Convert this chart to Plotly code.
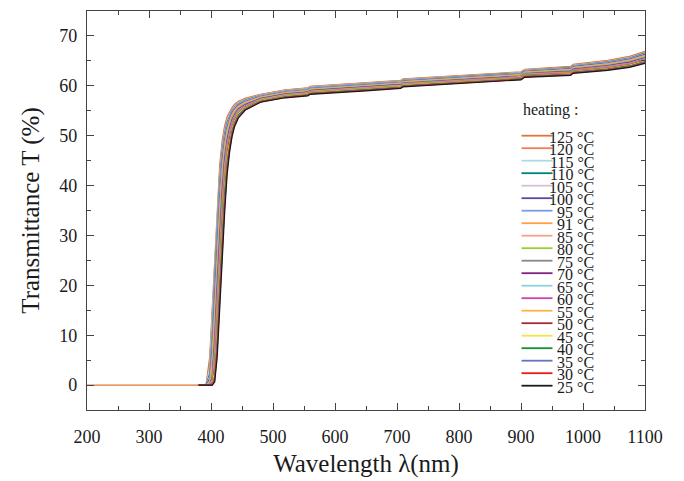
import plotly.graph_objects as go

# Wavelength grid (nm) shared by every heating step
wavelength = [380, 392, 398, 402, 406, 410, 414, 418, 422, 426, 430, 434, 438, 444,
              455, 480, 520, 556, 560, 650, 706, 710, 800, 900, 906, 980, 984, 1040, 1075, 1100]

# The 125 °C scan also covers the deep-UV baseline
baseline_wl = [200]
baseline_T = [0.0]

temperatures = [125, 120, 115, 110, 105, 100, 95, 91, 85, 80, 75, 70, 65, 60, 55, 50, 45, 40, 35, 30, 25]

# Transmittance (%) per heating temperature
T_125 = [0, 0, 5.8, 15.7, 26.7, 35.7, 44.1, 49.0, 52.0, 53.8, 54.9, 55.7, 56.3, 56.9, 57.50, 58.30, 59.20, 59.60, 59.90, 60.60, 61.10, 61.40, 62.10, 62.80, 63.30, 63.90, 64.30, 65.10, 65.90, 66.90]
T_120 = [0, 0, 4.6, 13.9, 25.0, 34.4, 42.8, 48.1, 51.4, 53.4, 54.7, 55.5, 56.1, 56.7, 57.38, 58.22, 59.12, 59.52, 59.82, 60.52, 61.02, 61.32, 62.02, 62.72, 63.22, 63.81, 64.21, 65.00, 65.79, 66.78]
T_115 = [0, 0, 3.5, 12.3, 23.4, 33.1, 41.7, 47.5, 50.9, 53.1, 54.4, 55.3, 55.9, 56.6, 57.26, 58.14, 59.04, 59.44, 59.74, 60.44, 60.94, 61.24, 61.94, 62.64, 63.14, 63.72, 64.12, 64.90, 65.68, 66.66]
T_110 = [0, 0, 2.3, 10.6, 21.8, 31.8, 40.6, 46.8, 50.4, 52.7, 54.1, 55.1, 55.7, 56.4, 57.14, 58.06, 58.96, 59.36, 59.66, 60.36, 60.86, 61.16, 61.86, 62.56, 63.06, 63.63, 64.03, 64.80, 65.57, 66.54]
T_105 = [0, 0, 1.7, 9.2, 20.1, 30.3, 39.3, 46.0, 49.8, 52.3, 53.8, 54.9, 55.6, 56.3, 57.02, 57.98, 58.88, 59.28, 59.58, 60.28, 60.78, 61.08, 61.78, 62.48, 62.98, 63.54, 63.94, 64.70, 65.46, 66.42]
T_100 = [0, 0, 1.3, 7.9, 18.4, 28.8, 37.9, 45.1, 49.2, 51.9, 53.5, 54.7, 55.4, 56.2, 56.90, 57.90, 58.80, 59.20, 59.50, 60.20, 60.70, 61.00, 61.70, 62.40, 62.90, 63.45, 63.85, 64.60, 65.35, 66.30]
T_95 = [0, 0, 0.9, 6.6, 16.6, 27.3, 36.5, 44.1, 48.6, 51.5, 53.2, 54.5, 55.2, 56.0, 56.78, 57.82, 58.72, 59.12, 59.42, 60.12, 60.62, 60.92, 61.62, 62.32, 62.82, 63.36, 63.76, 64.50, 65.24, 66.18]
T_91 = [0, 0, 0.5, 5.4, 14.9, 25.8, 35.1, 43.2, 48.1, 51.0, 52.9, 54.2, 55.0, 55.9, 56.66, 57.74, 58.64, 59.04, 59.34, 60.04, 60.54, 60.84, 61.54, 62.24, 62.74, 63.27, 63.67, 64.40, 65.13, 66.06]
T_85 = [0, 0, 0.3, 4.2, 13.3, 24.3, 33.8, 42.1, 47.3, 50.5, 52.5, 54.0, 54.8, 55.7, 56.54, 57.66, 58.56, 58.96, 59.26, 59.96, 60.46, 60.76, 61.46, 62.16, 62.66, 63.18, 63.58, 64.30, 65.02, 65.94]
T_80 = [0, 0, 0.2, 3.1, 11.6, 22.7, 32.4, 41.0, 46.6, 50.0, 52.1, 53.7, 54.6, 55.6, 56.42, 57.58, 58.48, 58.88, 59.18, 59.88, 60.38, 60.68, 61.38, 62.08, 62.58, 63.09, 63.49, 64.20, 64.91, 65.82]
T_75 = [0, 0, 0, 2.0, 10.0, 21.1, 31.1, 39.9, 46.0, 49.5, 51.8, 53.4, 54.4, 55.4, 56.30, 57.50, 58.40, 58.80, 59.10, 59.80, 60.30, 60.60, 61.30, 62.00, 62.50, 63.00, 63.40, 64.10, 64.80, 65.70]
T_70 = [0, 0, 0, 1.5, 8.6, 19.2, 29.4, 38.3, 45.0, 48.9, 51.4, 53.1, 54.1, 55.3, 56.18, 57.42, 58.32, 58.72, 59.02, 59.72, 60.22, 60.52, 61.22, 61.92, 62.42, 62.91, 63.31, 64.00, 64.69, 65.58]
T_65 = [0, 0, 0, 1.1, 7.3, 17.5, 28.0, 36.9, 44.1, 48.3, 50.9, 52.8, 53.9, 55.1, 56.06, 57.34, 58.24, 58.64, 58.94, 59.64, 60.14, 60.44, 61.14, 61.84, 62.34, 62.82, 63.22, 63.90, 64.58, 65.46]
T_60 = [0, 0, 0, 0.7, 6.0, 15.8, 26.5, 35.5, 43.2, 47.7, 50.5, 52.5, 53.7, 54.9, 55.94, 57.26, 58.16, 58.56, 58.86, 59.56, 60.06, 60.36, 61.06, 61.76, 62.26, 62.73, 63.13, 63.80, 64.47, 65.34]
T_55 = [0, 0, 0, 0.5, 4.9, 14.1, 25.0, 34.2, 42.2, 47.0, 50.0, 52.1, 53.4, 54.7, 55.82, 57.18, 58.08, 58.48, 58.78, 59.48, 59.98, 60.28, 60.98, 61.68, 62.18, 62.64, 63.04, 63.70, 64.36, 65.22]
T_50 = [0, 0, 0, 0.3, 3.8, 12.5, 23.4, 32.9, 41.1, 46.3, 49.5, 51.8, 53.2, 54.5, 55.70, 57.10, 58.00, 58.40, 58.70, 59.40, 59.90, 60.20, 60.90, 61.60, 62.10, 62.55, 62.95, 63.60, 64.25, 65.10]
T_45 = [0, 0, 0, 0.1, 2.7, 10.9, 21.9, 31.6, 40.0, 45.7, 49.0, 51.5, 52.9, 54.4, 55.58, 57.02, 57.92, 58.32, 58.62, 59.32, 59.82, 60.12, 60.82, 61.52, 62.02, 62.46, 62.86, 63.50, 64.14, 64.98]
T_40 = [0, 0, 0, 0, 1.8, 9.4, 20.2, 30.1, 38.8, 44.9, 48.5, 51.1, 52.6, 54.2, 55.46, 56.94, 57.84, 58.24, 58.54, 59.24, 59.74, 60.04, 60.74, 61.44, 61.94, 62.37, 62.77, 63.40, 64.03, 64.86]
T_35 = [0, 0, 0, 0, 1.4, 8.1, 18.5, 28.7, 37.3, 44.0, 47.9, 50.7, 52.4, 53.9, 55.34, 56.86, 57.76, 58.16, 58.46, 59.16, 59.66, 59.96, 60.66, 61.36, 61.86, 62.28, 62.68, 63.30, 63.92, 64.74]
T_30 = [0, 0, 0, 0, 1.0, 6.8, 16.8, 27.2, 35.9, 43.1, 47.3, 50.2, 52.1, 53.7, 55.22, 56.78, 57.68, 58.08, 58.38, 59.08, 59.58, 59.88, 60.58, 61.28, 61.78, 62.19, 62.59, 63.20, 63.81, 64.62]
T_25 = [0, 0, 0, 0, 0.6, 5.6, 15.1, 25.8, 34.5, 42.2, 46.7, 49.8, 51.8, 53.5, 55.10, 56.70, 57.60, 58.00, 58.30, 59.00, 59.50, 59.80, 60.50, 61.20, 61.70, 62.10, 62.50, 63.10, 63.70, 64.50]

series = [T_125, T_120, T_115, T_110, T_105, T_100, T_95, T_91, T_85, T_80, T_75,
          T_70, T_65, T_60, T_55, T_50, T_45, T_40, T_35, T_30, T_25]

colors = ["#dd7733", "#f47a5a", "#add8e6", "#008080", "#d8bfd8", "#5a4a9a", "#7a9ce0",
          "#ff9f4a", "#f9a08c", "#9acd32", "#888888", "#802080", "#87d3e6", "#cc44aa",
          "#ffb347", "#a52a3a", "#f0e442", "#109030", "#6673c4", "#e41a1c", "#1a1a1a"]

SERIF = "Liberation Serif"
AXIS = "#444444"
TEXT = "#1a1a1a"

fig = go.Figure()
for temp, vals, col in zip(temperatures, series, colors):
    x = wavelength
    y = vals
    if temp == 125:
        x = baseline_wl + wavelength
        y = baseline_T + vals
    fig.add_trace(go.Scatter(x=x, y=y, mode="lines", name=f"{temp} °C",
                             line=dict(color=col, width=1.2), showlegend=False))

# Hand-built legend (entries packed tighter than the native legend allows)
plot_left, plot_w = 87, 558
plot_bottom, plot_h = 410, 399


def px_x(px):
    return (px - plot_left) / plot_w


def px_y(py):
    return (plot_bottom - py) / plot_h


shapes = []
annotations = [dict(text="heating :", x=px_x(521), y=px_y(110), xref="paper", yref="paper",
                    xanchor="left", yanchor="middle", showarrow=False,
                    font=dict(family=SERIF, size=16, color=TEXT))]
for k, (temp, col) in enumerate(zip(temperatures, colors)):
    ypx = 135.7 + 12.5 * k
    shapes.append(dict(type="line", xref="paper", yref="paper",
                       x0=px_x(521.5), x1=px_x(552.5), y0=px_y(ypx), y1=px_y(ypx),
                       line=dict(color=col, width=1.8)))
    annotations.append(dict(text=f"{temp} °C", x=px_x(596), y=px_y(ypx + 1.5),
                            xref="paper", yref="paper", xanchor="right", yanchor="middle",
                            showarrow=False, font=dict(family=SERIF, size=16, color=TEXT)))

axis_common = dict(showline=True, linecolor=AXIS, linewidth=1.3, mirror="ticks",
                   ticks="inside", ticklen=7, tickwidth=1.1, tickcolor=AXIS,
                   showgrid=False, zeroline=False, automargin=False,
                   tickfont=dict(family=SERIF, size=18, color=TEXT))

fig.update_layout(
    width=684, height=481,
    margin=dict(l=87, r=39, t=11, b=71),
    paper_bgcolor="white", plot_bgcolor="white",
    font=dict(family=SERIF, color=TEXT),
    shapes=shapes, annotations=annotations,
    xaxis=dict(range=[200, 1100], tick0=200, dtick=100, ticklabelstandoff=10,
               minor=dict(ticks="inside", ticklen=4, dtick=50, tickcolor=AXIS, tickwidth=1),
               title=dict(text="Wavelength λ(nm)", standoff=8,
                          font=dict(family=SERIF, size=25, color=TEXT)),
               **axis_common),
    yaxis=dict(range=[-5, 75], tick0=0, dtick=10, ticklabelstandoff=5,
               minor=dict(ticks="inside", ticklen=4, dtick=5, tickcolor=AXIS, tickwidth=1),
               title=dict(text="Transmittance T (%)", standoff=12,
                          font=dict(family=SERIF, size=25, color=TEXT)),
               **axis_common),
)

fig.write_html("out.html")
